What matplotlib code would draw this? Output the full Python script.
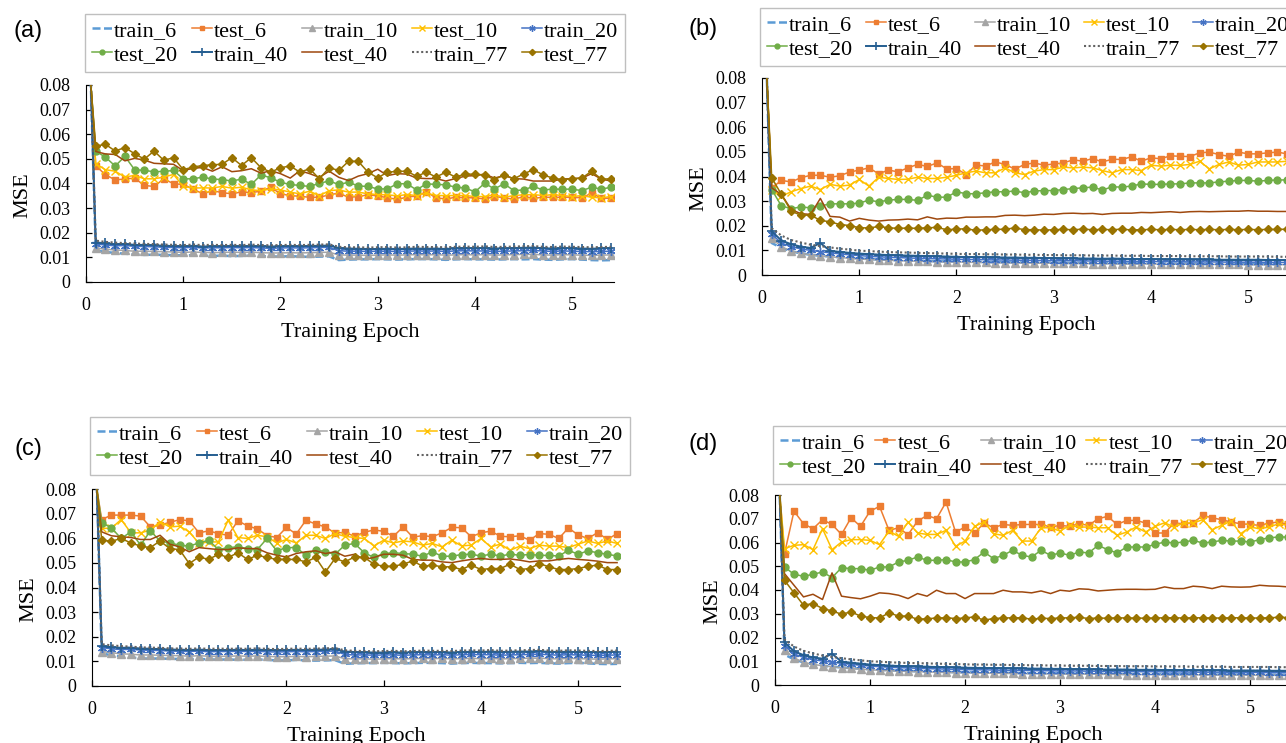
import matplotlib
matplotlib.use('Agg')
import matplotlib.pyplot as plt
from matplotlib.ticker import FuncFormatter, MultipleLocator

W, H = 1286, 743

# epoch positions of the logged points (first one is off the chart top)
EPOCHS = [0.0] + [k / 10 for k in range(1, 55)]

LABELS = ['train_6', 'test_6', 'train_10', 'test_10', 'train_20',
          'test_20', 'train_40', 'test_40', 'train_77', 'test_77']

# ---- panel (a) ----
A_TRAIN_6 = [0.147,
    0.0128, 0.0122, 0.0118, 0.0115, 0.0112, 0.0110, 0.0111, 0.0110, 0.0109, 0.0108,
    0.0109, 0.0107, 0.0106, 0.0107, 0.0105, 0.0106, 0.0107, 0.0105, 0.0104, 0.0103,
    0.0105, 0.0103, 0.0102, 0.0103, 0.0104, 0.0089, 0.0091, 0.0092, 0.0092, 0.0093,
    0.0092, 0.0091, 0.0092, 0.0093, 0.0093, 0.0092, 0.0090, 0.0092, 0.0093, 0.0092,
    0.0092, 0.0091, 0.0092, 0.0093, 0.0092, 0.0093, 0.0091, 0.0090, 0.0092, 0.0093,
    0.0091, 0.0089, 0.0088, 0.0089]
A_TEST_6 = [0.113,
    0.0473, 0.0435, 0.0415, 0.0418, 0.0422, 0.0392, 0.0388, 0.0419, 0.0399, 0.0396,
    0.0378, 0.0358, 0.0371, 0.0363, 0.0358, 0.0366, 0.0363, 0.0369, 0.0385, 0.0358,
    0.0351, 0.0348, 0.0344, 0.0344, 0.0354, 0.0361, 0.0344, 0.0347, 0.0354, 0.0350,
    0.0342, 0.0336, 0.0344, 0.0350, 0.0365, 0.0342, 0.0337, 0.0344, 0.0342, 0.0342,
    0.0337, 0.0347, 0.0342, 0.0336, 0.0347, 0.0340, 0.0344, 0.0344, 0.0344, 0.0344,
    0.0342, 0.0361, 0.0340, 0.0340]
A_TRAIN_10 = [0.146,
    0.0138, 0.0133, 0.0130, 0.0128, 0.0125, 0.0125, 0.0124, 0.0123, 0.0122, 0.0120,
    0.0122, 0.0120, 0.0119, 0.0120, 0.0121, 0.0120, 0.0121, 0.0119, 0.0118, 0.0118,
    0.0119, 0.0118, 0.0119, 0.0120, 0.0121, 0.0110, 0.0109, 0.0109, 0.0108, 0.0109,
    0.0110, 0.0109, 0.0110, 0.0111, 0.0110, 0.0111, 0.0109, 0.0110, 0.0111, 0.0110,
    0.0111, 0.0109, 0.0110, 0.0111, 0.0112, 0.0112, 0.0110, 0.0109, 0.0111, 0.0110,
    0.0109, 0.0108, 0.0109, 0.0110]
A_TEST_10 = [0.112,
    0.0480, 0.0456, 0.0450, 0.0426, 0.0433, 0.0419, 0.0419, 0.0426, 0.0437, 0.0388,
    0.0382, 0.0382, 0.0382, 0.0388, 0.0381, 0.0385, 0.0374, 0.0371, 0.0378, 0.0374,
    0.0365, 0.0358, 0.0369, 0.0350, 0.0371, 0.0374, 0.0365, 0.0365, 0.0358, 0.0355,
    0.0354, 0.0350, 0.0355, 0.0351, 0.0361, 0.0351, 0.0351, 0.0351, 0.0351, 0.0347,
    0.0347, 0.0354, 0.0344, 0.0351, 0.0354, 0.0355, 0.0351, 0.0355, 0.0351, 0.0347,
    0.0351, 0.0344, 0.0342, 0.0347]
A_TRAIN_20 = [0.145,
    0.0155, 0.0150, 0.0147, 0.0148, 0.0145, 0.0144, 0.0143, 0.0141, 0.0140, 0.0139,
    0.0141, 0.0138, 0.0139, 0.0139, 0.0140, 0.0139, 0.0140, 0.0138, 0.0137, 0.0138,
    0.0139, 0.0138, 0.0139, 0.0140, 0.0141, 0.0127, 0.0125, 0.0125, 0.0124, 0.0125,
    0.0125, 0.0124, 0.0125, 0.0126, 0.0125, 0.0126, 0.0124, 0.0126, 0.0127, 0.0126,
    0.0126, 0.0124, 0.0125, 0.0126, 0.0127, 0.0128, 0.0126, 0.0124, 0.0126, 0.0125,
    0.0124, 0.0123, 0.0124, 0.0125]
A_TEST_20 = [0.107,
    0.0531, 0.0507, 0.0471, 0.0510, 0.0456, 0.0453, 0.0448, 0.0449, 0.0453, 0.0419,
    0.0419, 0.0426, 0.0418, 0.0416, 0.0410, 0.0418, 0.0396, 0.0435, 0.0423, 0.0405,
    0.0396, 0.0392, 0.0388, 0.0401, 0.0410, 0.0396, 0.0405, 0.0390, 0.0388, 0.0378,
    0.0378, 0.0399, 0.0399, 0.0374, 0.0399, 0.0396, 0.0395, 0.0385, 0.0382, 0.0366,
    0.0401, 0.0378, 0.0399, 0.0371, 0.0374, 0.0388, 0.0374, 0.0377, 0.0377, 0.0377,
    0.0371, 0.0385, 0.0377, 0.0385]
A_TRAIN_40 = [0.144,
    0.0160, 0.0157, 0.0153, 0.0155, 0.0150, 0.0151, 0.0149, 0.0147, 0.0146, 0.0145,
    0.0147, 0.0144, 0.0145, 0.0145, 0.0146, 0.0145, 0.0146, 0.0145, 0.0144, 0.0145,
    0.0146, 0.0145, 0.0146, 0.0147, 0.0148, 0.0138, 0.0136, 0.0135, 0.0134, 0.0134,
    0.0135, 0.0134, 0.0135, 0.0136, 0.0135, 0.0136, 0.0134, 0.0137, 0.0138, 0.0137,
    0.0139, 0.0136, 0.0137, 0.0138, 0.0139, 0.0140, 0.0137, 0.0136, 0.0138, 0.0137,
    0.0136, 0.0135, 0.0137, 0.0138]
A_TEST_40 = [0.107,
    0.0530, 0.0520, 0.0518, 0.0492, 0.0502, 0.0495, 0.0482, 0.0480, 0.0478, 0.0452,
    0.0462, 0.0465, 0.0450, 0.0468, 0.0448, 0.0452, 0.0460, 0.0442, 0.0452, 0.0440,
    0.0422, 0.0452, 0.0440, 0.0425, 0.0450, 0.0425, 0.0412, 0.0430, 0.0440, 0.0458,
    0.0432, 0.0440, 0.0438, 0.0422, 0.0420, 0.0420, 0.0410, 0.0420, 0.0430, 0.0432,
    0.0438, 0.0422, 0.0432, 0.0420, 0.0418, 0.0410, 0.0410, 0.0410, 0.0418, 0.0420,
    0.0422, 0.0440, 0.0418, 0.0410]
A_TRAIN_77 = [0.145,
    0.0168, 0.0163, 0.0160, 0.0158, 0.0156, 0.0155, 0.0154, 0.0152, 0.0151, 0.0150,
    0.0152, 0.0150, 0.0151, 0.0150, 0.0151, 0.0150, 0.0152, 0.0150, 0.0149, 0.0150,
    0.0151, 0.0150, 0.0151, 0.0152, 0.0153, 0.0143, 0.0141, 0.0141, 0.0140, 0.0141,
    0.0142, 0.0140, 0.0141, 0.0143, 0.0142, 0.0142, 0.0141, 0.0143, 0.0144, 0.0143,
    0.0145, 0.0142, 0.0143, 0.0144, 0.0145, 0.0146, 0.0143, 0.0142, 0.0144, 0.0143,
    0.0142, 0.0141, 0.0142, 0.0143]
A_TEST_77 = [0.105,
    0.0552, 0.0559, 0.0532, 0.0546, 0.0521, 0.0499, 0.0532, 0.0494, 0.0505, 0.0456,
    0.0467, 0.0473, 0.0476, 0.0478, 0.0505, 0.0473, 0.0505, 0.0464, 0.0446, 0.0464,
    0.0471, 0.0446, 0.0460, 0.0419, 0.0464, 0.0453, 0.0490, 0.0490, 0.0446, 0.0423,
    0.0446, 0.0449, 0.0450, 0.0429, 0.0446, 0.0426, 0.0446, 0.0426, 0.0439, 0.0437,
    0.0435, 0.0416, 0.0435, 0.0419, 0.0439, 0.0456, 0.0435, 0.0422, 0.0416, 0.0419,
    0.0422, 0.0450, 0.0418, 0.0419]

# ---- panel (b) ----
B_TRAIN_6 = [0.147,
    0.0130, 0.0110, 0.0096, 0.0088, 0.0082, 0.0078, 0.0075, 0.0072, 0.0070, 0.0067,
    0.0065, 0.0063, 0.0062, 0.0060, 0.0059, 0.0058, 0.0057, 0.0056, 0.0055, 0.0055,
    0.0054, 0.0053, 0.0053, 0.0052, 0.0052, 0.0051, 0.0051, 0.0050, 0.0050, 0.0050,
    0.0049, 0.0049, 0.0049, 0.0048, 0.0048, 0.0048, 0.0047, 0.0047, 0.0047, 0.0047,
    0.0046, 0.0046, 0.0046, 0.0046, 0.0045, 0.0045, 0.0045, 0.0045, 0.0045, 0.0044,
    0.0044, 0.0044, 0.0044, 0.0044]
B_TEST_6 = [0.125,
    0.0354, 0.0384, 0.0378, 0.0395, 0.0405, 0.0405, 0.0397, 0.0403, 0.0418, 0.0426,
    0.0435, 0.0411, 0.0426, 0.0419, 0.0435, 0.0449, 0.0441, 0.0455, 0.0431, 0.0432,
    0.0408, 0.0446, 0.0443, 0.0459, 0.0449, 0.0430, 0.0449, 0.0455, 0.0446, 0.0451,
    0.0455, 0.0468, 0.0462, 0.0473, 0.0459, 0.0470, 0.0469, 0.0480, 0.0462, 0.0476,
    0.0472, 0.0484, 0.0482, 0.0481, 0.0496, 0.0499, 0.0489, 0.0482, 0.0499, 0.0492,
    0.0492, 0.0496, 0.0499, 0.0492]
B_TRAIN_10 = [0.145,
    0.0150, 0.0115, 0.0097, 0.0088, 0.0082, 0.0078, 0.0074, 0.0071, 0.0068, 0.0065,
    0.0063, 0.0061, 0.0060, 0.0058, 0.0057, 0.0056, 0.0055, 0.0054, 0.0053, 0.0053,
    0.0052, 0.0051, 0.0051, 0.0050, 0.0050, 0.0049, 0.0049, 0.0048, 0.0048, 0.0048,
    0.0047, 0.0047, 0.0047, 0.0046, 0.0046, 0.0046, 0.0045, 0.0045, 0.0045, 0.0045,
    0.0044, 0.0044, 0.0044, 0.0044, 0.0043, 0.0043, 0.0043, 0.0043, 0.0043, 0.0042,
    0.0042, 0.0042, 0.0042, 0.0042]
B_TEST_10 = [0.125,
    0.0347, 0.0320, 0.0338, 0.0351, 0.0361, 0.0347, 0.0368, 0.0361, 0.0365, 0.0388,
    0.0361, 0.0397, 0.0392, 0.0388, 0.0389, 0.0397, 0.0392, 0.0392, 0.0397, 0.0405,
    0.0415, 0.0422, 0.0415, 0.0415, 0.0435, 0.0415, 0.0408, 0.0422, 0.0428, 0.0428,
    0.0438, 0.0435, 0.0438, 0.0435, 0.0424, 0.0415, 0.0428, 0.0428, 0.0424, 0.0446,
    0.0442, 0.0446, 0.0445, 0.0449, 0.0462, 0.0431, 0.0449, 0.0459, 0.0446, 0.0449,
    0.0459, 0.0459, 0.0459, 0.0462]
B_TRAIN_20 = [0.143,
    0.0165, 0.0130, 0.0115, 0.0106, 0.0100, 0.0095, 0.0090, 0.0086, 0.0082, 0.0079,
    0.0076, 0.0074, 0.0072, 0.0071, 0.0069, 0.0068, 0.0067, 0.0066, 0.0065, 0.0064,
    0.0063, 0.0063, 0.0062, 0.0061, 0.0061, 0.0060, 0.0060, 0.0059, 0.0059, 0.0058,
    0.0058, 0.0058, 0.0057, 0.0057, 0.0056, 0.0056, 0.0056, 0.0055, 0.0055, 0.0055,
    0.0054, 0.0054, 0.0054, 0.0053, 0.0053, 0.0053, 0.0053, 0.0052, 0.0052, 0.0052,
    0.0052, 0.0051, 0.0051, 0.0051]
B_TEST_20 = [0.125,
    0.0347, 0.0280, 0.0270, 0.0276, 0.0273, 0.0280, 0.0289, 0.0289, 0.0289, 0.0292,
    0.0304, 0.0297, 0.0304, 0.0307, 0.0307, 0.0303, 0.0324, 0.0316, 0.0316, 0.0338,
    0.0330, 0.0330, 0.0334, 0.0338, 0.0338, 0.0341, 0.0334, 0.0341, 0.0343, 0.0343,
    0.0347, 0.0351, 0.0354, 0.0357, 0.0345, 0.0358, 0.0357, 0.0361, 0.0370, 0.0368,
    0.0368, 0.0370, 0.0370, 0.0374, 0.0374, 0.0374, 0.0378, 0.0381, 0.0384, 0.0384,
    0.0381, 0.0384, 0.0386, 0.0386]
B_TRAIN_40 = [0.142,
    0.0178, 0.0140, 0.0125, 0.0115, 0.0110, 0.0130, 0.0098, 0.0094, 0.0090, 0.0087,
    0.0085, 0.0083, 0.0081, 0.0080, 0.0079, 0.0078, 0.0077, 0.0076, 0.0075, 0.0074,
    0.0073, 0.0073, 0.0072, 0.0072, 0.0071, 0.0071, 0.0070, 0.0070, 0.0069, 0.0069,
    0.0068, 0.0068, 0.0067, 0.0067, 0.0066, 0.0067, 0.0066, 0.0065, 0.0065, 0.0065,
    0.0064, 0.0064, 0.0064, 0.0063, 0.0063, 0.0063, 0.0062, 0.0062, 0.0062, 0.0062,
    0.0062, 0.0061, 0.0061, 0.0061]
B_TEST_40 = [0.125,
    0.0354, 0.0327, 0.0266, 0.0249, 0.0246, 0.0311, 0.0238, 0.0235, 0.0219, 0.0230,
    0.0223, 0.0219, 0.0223, 0.0224, 0.0227, 0.0224, 0.0236, 0.0227, 0.0231, 0.0230,
    0.0235, 0.0235, 0.0236, 0.0236, 0.0242, 0.0243, 0.0241, 0.0243, 0.0247, 0.0246,
    0.0250, 0.0251, 0.0249, 0.0250, 0.0246, 0.0250, 0.0251, 0.0251, 0.0254, 0.0253,
    0.0255, 0.0257, 0.0254, 0.0257, 0.0258, 0.0257, 0.0258, 0.0259, 0.0259, 0.0261,
    0.0259, 0.0259, 0.0258, 0.0258]
B_TRAIN_77 = [0.141,
    0.0190, 0.0160, 0.0142, 0.0132, 0.0123, 0.0117, 0.0112, 0.0107, 0.0103, 0.0099,
    0.0097, 0.0095, 0.0093, 0.0092, 0.0091, 0.0090, 0.0089, 0.0088, 0.0087, 0.0086,
    0.0085, 0.0085, 0.0084, 0.0084, 0.0083, 0.0083, 0.0082, 0.0082, 0.0081, 0.0081,
    0.0080, 0.0080, 0.0080, 0.0079, 0.0079, 0.0079, 0.0078, 0.0078, 0.0078, 0.0077,
    0.0077, 0.0077, 0.0077, 0.0076, 0.0076, 0.0076, 0.0076, 0.0075, 0.0075, 0.0075,
    0.0075, 0.0075, 0.0074, 0.0074]
B_TEST_77 = [0.120,
    0.0395, 0.0327, 0.0259, 0.0243, 0.0243, 0.0222, 0.0216, 0.0205, 0.0201, 0.0192,
    0.0191, 0.0197, 0.0192, 0.0189, 0.0191, 0.0189, 0.0192, 0.0193, 0.0184, 0.0186,
    0.0188, 0.0181, 0.0184, 0.0185, 0.0186, 0.0191, 0.0184, 0.0184, 0.0182, 0.0184,
    0.0185, 0.0184, 0.0186, 0.0184, 0.0185, 0.0184, 0.0186, 0.0183, 0.0184, 0.0185,
    0.0184, 0.0185, 0.0184, 0.0185, 0.0184, 0.0185, 0.0184, 0.0185, 0.0184, 0.0185,
    0.0184, 0.0185, 0.0185, 0.0186]

# ---- panel (c) ----
C_TRAIN_6 = [0.147,
    0.0132, 0.0125, 0.0120, 0.0116, 0.0112, 0.0111, 0.0112, 0.0110, 0.0110, 0.0109,
    0.0110, 0.0108, 0.0107, 0.0108, 0.0106, 0.0107, 0.0108, 0.0106, 0.0104, 0.0104,
    0.0106, 0.0104, 0.0103, 0.0104, 0.0105, 0.0090, 0.0092, 0.0093, 0.0093, 0.0094,
    0.0093, 0.0092, 0.0093, 0.0094, 0.0094, 0.0093, 0.0091, 0.0093, 0.0094, 0.0093,
    0.0093, 0.0092, 0.0093, 0.0094, 0.0093, 0.0094, 0.0092, 0.0091, 0.0093, 0.0094,
    0.0092, 0.0090, 0.0089, 0.0090]
C_TEST_6 = [0.092,
    0.0676, 0.0694, 0.0694, 0.0694, 0.0690, 0.0646, 0.0653, 0.0665, 0.0675, 0.0671,
    0.0622, 0.0630, 0.0619, 0.0612, 0.0671, 0.0650, 0.0638, 0.0611, 0.0603, 0.0644,
    0.0617, 0.0673, 0.0658, 0.0646, 0.0621, 0.0624, 0.0608, 0.0624, 0.0634, 0.0628,
    0.0608, 0.0646, 0.0604, 0.0611, 0.0606, 0.0622, 0.0644, 0.0643, 0.0606, 0.0622,
    0.0629, 0.0608, 0.0606, 0.0610, 0.0592, 0.0619, 0.0616, 0.0599, 0.0642, 0.0613,
    0.0599, 0.0623, 0.0595, 0.0619]
C_TRAIN_10 = [0.146,
    0.0140, 0.0135, 0.0131, 0.0129, 0.0126, 0.0126, 0.0125, 0.0124, 0.0123, 0.0121,
    0.0123, 0.0121, 0.0120, 0.0121, 0.0122, 0.0121, 0.0122, 0.0120, 0.0119, 0.0119,
    0.0120, 0.0119, 0.0120, 0.0121, 0.0122, 0.0111, 0.0110, 0.0110, 0.0109, 0.0110,
    0.0111, 0.0110, 0.0111, 0.0112, 0.0111, 0.0112, 0.0110, 0.0111, 0.0112, 0.0111,
    0.0112, 0.0110, 0.0111, 0.0112, 0.0113, 0.0113, 0.0111, 0.0110, 0.0112, 0.0111,
    0.0110, 0.0109, 0.0110, 0.0111]
C_TEST_10 = [0.096,
    0.0640, 0.0641, 0.0676, 0.0622, 0.0622, 0.0633, 0.0667, 0.0646, 0.0649, 0.0626,
    0.0579, 0.0585, 0.0585, 0.0673, 0.0603, 0.0599, 0.0612, 0.0606, 0.0581, 0.0595,
    0.0581, 0.0612, 0.0612, 0.0599, 0.0619, 0.0608, 0.0603, 0.0599, 0.0569, 0.0592,
    0.0581, 0.0589, 0.0585, 0.0572, 0.0579, 0.0565, 0.0592, 0.0569, 0.0572, 0.0599,
    0.0565, 0.0576, 0.0551, 0.0568, 0.0558, 0.0572, 0.0568, 0.0568, 0.0562, 0.0576,
    0.0589, 0.0579, 0.0589, 0.0579]
C_TRAIN_20 = [0.145,
    0.0156, 0.0151, 0.0148, 0.0149, 0.0146, 0.0145, 0.0144, 0.0142, 0.0141, 0.0140,
    0.0142, 0.0139, 0.0140, 0.0140, 0.0141, 0.0140, 0.0141, 0.0139, 0.0138, 0.0139,
    0.0140, 0.0139, 0.0140, 0.0141, 0.0142, 0.0128, 0.0126, 0.0126, 0.0125, 0.0126,
    0.0126, 0.0125, 0.0126, 0.0127, 0.0126, 0.0127, 0.0125, 0.0127, 0.0128, 0.0127,
    0.0127, 0.0125, 0.0126, 0.0127, 0.0128, 0.0129, 0.0127, 0.0125, 0.0127, 0.0126,
    0.0125, 0.0124, 0.0125, 0.0126]
C_TEST_20 = [0.094,
    0.0663, 0.0642, 0.0599, 0.0626, 0.0572, 0.0630, 0.0589, 0.0581, 0.0572, 0.0568,
    0.0581, 0.0592, 0.0554, 0.0562, 0.0565, 0.0558, 0.0554, 0.0599, 0.0549, 0.0562,
    0.0562, 0.0531, 0.0554, 0.0545, 0.0535, 0.0572, 0.0579, 0.0541, 0.0522, 0.0538,
    0.0541, 0.0538, 0.0535, 0.0527, 0.0545, 0.0527, 0.0527, 0.0534, 0.0535, 0.0528,
    0.0535, 0.0528, 0.0535, 0.0531, 0.0534, 0.0531, 0.0530, 0.0528, 0.0551, 0.0535,
    0.0549, 0.0541, 0.0535, 0.0528]
C_TRAIN_40 = [0.144,
    0.0162, 0.0158, 0.0155, 0.0156, 0.0152, 0.0151, 0.0150, 0.0148, 0.0147, 0.0146,
    0.0148, 0.0145, 0.0146, 0.0146, 0.0147, 0.0146, 0.0147, 0.0146, 0.0145, 0.0146,
    0.0147, 0.0146, 0.0147, 0.0148, 0.0149, 0.0140, 0.0138, 0.0137, 0.0136, 0.0136,
    0.0137, 0.0136, 0.0137, 0.0138, 0.0137, 0.0138, 0.0136, 0.0138, 0.0139, 0.0138,
    0.0140, 0.0138, 0.0139, 0.0140, 0.0140, 0.0141, 0.0139, 0.0138, 0.0139, 0.0138,
    0.0138, 0.0137, 0.0138, 0.0139]
C_TEST_40 = [0.097,
    0.0626, 0.0610, 0.0606, 0.0603, 0.0595, 0.0595, 0.0612, 0.0576, 0.0565, 0.0545,
    0.0562, 0.0558, 0.0554, 0.0554, 0.0561, 0.0558, 0.0558, 0.0541, 0.0531, 0.0524,
    0.0538, 0.0545, 0.0549, 0.0538, 0.0545, 0.0527, 0.0535, 0.0514, 0.0522, 0.0535,
    0.0535, 0.0531, 0.0514, 0.0511, 0.0511, 0.0504, 0.0501, 0.0508, 0.0514, 0.0518,
    0.0514, 0.0514, 0.0516, 0.0511, 0.0504, 0.0508, 0.0508, 0.0514, 0.0518, 0.0514,
    0.0511, 0.0507, 0.0501, 0.0501]
C_TRAIN_77 = [0.145,
    0.0170, 0.0165, 0.0162, 0.0160, 0.0157, 0.0156, 0.0155, 0.0153, 0.0152, 0.0151,
    0.0153, 0.0151, 0.0152, 0.0151, 0.0152, 0.0151, 0.0153, 0.0151, 0.0150, 0.0151,
    0.0152, 0.0151, 0.0152, 0.0153, 0.0154, 0.0145, 0.0143, 0.0142, 0.0141, 0.0142,
    0.0143, 0.0141, 0.0142, 0.0144, 0.0143, 0.0143, 0.0142, 0.0144, 0.0145, 0.0144,
    0.0146, 0.0143, 0.0144, 0.0145, 0.0146, 0.0147, 0.0144, 0.0143, 0.0145, 0.0144,
    0.0143, 0.0142, 0.0143, 0.0144]
C_TEST_77 = [0.101,
    0.0592, 0.0588, 0.0599, 0.0581, 0.0568, 0.0562, 0.0589, 0.0558, 0.0554, 0.0497,
    0.0524, 0.0514, 0.0535, 0.0522, 0.0541, 0.0514, 0.0531, 0.0522, 0.0514, 0.0514,
    0.0514, 0.0504, 0.0522, 0.0463, 0.0518, 0.0504, 0.0524, 0.0522, 0.0495, 0.0486,
    0.0486, 0.0495, 0.0508, 0.0486, 0.0491, 0.0484, 0.0484, 0.0473, 0.0491, 0.0473,
    0.0477, 0.0477, 0.0495, 0.0473, 0.0477, 0.0497, 0.0484, 0.0473, 0.0473, 0.0477,
    0.0486, 0.0491, 0.0473, 0.0473]

# ---- panel (d) ----
D_TRAIN_6 = [0.147,
    0.0128, 0.0108, 0.0095, 0.0087, 0.0081, 0.0077, 0.0074, 0.0071, 0.0069, 0.0066,
    0.0064, 0.0062, 0.0061, 0.0059, 0.0058, 0.0057, 0.0056, 0.0055, 0.0054, 0.0054,
    0.0053, 0.0052, 0.0052, 0.0051, 0.0051, 0.0050, 0.0050, 0.0049, 0.0049, 0.0049,
    0.0048, 0.0048, 0.0048, 0.0047, 0.0047, 0.0047, 0.0046, 0.0046, 0.0046, 0.0046,
    0.0045, 0.0045, 0.0045, 0.0045, 0.0044, 0.0044, 0.0044, 0.0044, 0.0044, 0.0043,
    0.0043, 0.0043, 0.0043, 0.0043]
D_TEST_6 = [0.105,
    0.0553, 0.0732, 0.0679, 0.0658, 0.0696, 0.0676, 0.0634, 0.0704, 0.0668, 0.0732,
    0.0752, 0.0651, 0.0662, 0.0633, 0.0690, 0.0714, 0.0700, 0.0770, 0.0644, 0.0665,
    0.0640, 0.0682, 0.0662, 0.0676, 0.0672, 0.0676, 0.0676, 0.0676, 0.0665, 0.0672,
    0.0668, 0.0679, 0.0672, 0.0700, 0.0710, 0.0676, 0.0693, 0.0693, 0.0682, 0.0640,
    0.0640, 0.0682, 0.0679, 0.0682, 0.0714, 0.0704, 0.0696, 0.0686, 0.0679, 0.0676,
    0.0672, 0.0682, 0.0686, 0.0676]
D_TRAIN_10 = [0.145,
    0.0148, 0.0113, 0.0096, 0.0087, 0.0081, 0.0077, 0.0073, 0.0070, 0.0067, 0.0064,
    0.0062, 0.0060, 0.0059, 0.0057, 0.0056, 0.0055, 0.0054, 0.0053, 0.0052, 0.0052,
    0.0051, 0.0050, 0.0050, 0.0049, 0.0049, 0.0048, 0.0048, 0.0047, 0.0047, 0.0047,
    0.0046, 0.0046, 0.0046, 0.0045, 0.0045, 0.0045, 0.0044, 0.0044, 0.0044, 0.0044,
    0.0043, 0.0043, 0.0043, 0.0043, 0.0042, 0.0042, 0.0042, 0.0042, 0.0042, 0.0041,
    0.0041, 0.0041, 0.0041, 0.0041]
D_TEST_10 = [0.103,
    0.0574, 0.0588, 0.0591, 0.0570, 0.0658, 0.0570, 0.0602, 0.0612, 0.0612, 0.0609,
    0.0591, 0.0648, 0.0626, 0.0686, 0.0640, 0.0634, 0.0634, 0.0651, 0.0584, 0.0606,
    0.0668, 0.0686, 0.0637, 0.0630, 0.0651, 0.0606, 0.0606, 0.0662, 0.0662, 0.0648,
    0.0672, 0.0665, 0.0665, 0.0662, 0.0662, 0.0630, 0.0644, 0.0665, 0.0644, 0.0668,
    0.0683, 0.0665, 0.0682, 0.0682, 0.0696, 0.0654, 0.0672, 0.0690, 0.0637, 0.0665,
    0.0658, 0.0665, 0.0679, 0.0672]
D_TRAIN_20 = [0.143,
    0.0166, 0.0131, 0.0116, 0.0107, 0.0101, 0.0096, 0.0091, 0.0087, 0.0083, 0.0080,
    0.0077, 0.0075, 0.0073, 0.0072, 0.0070, 0.0069, 0.0068, 0.0067, 0.0066, 0.0065,
    0.0064, 0.0064, 0.0063, 0.0062, 0.0062, 0.0061, 0.0061, 0.0060, 0.0060, 0.0059,
    0.0059, 0.0059, 0.0058, 0.0058, 0.0057, 0.0057, 0.0057, 0.0056, 0.0056, 0.0056,
    0.0055, 0.0055, 0.0055, 0.0054, 0.0054, 0.0054, 0.0054, 0.0053, 0.0053, 0.0053,
    0.0053, 0.0052, 0.0052, 0.0052]
D_TEST_20 = [0.110,
    0.0497, 0.0466, 0.0458, 0.0466, 0.0476, 0.0452, 0.0494, 0.0490, 0.0490, 0.0483,
    0.0497, 0.0497, 0.0518, 0.0525, 0.0539, 0.0525, 0.0525, 0.0528, 0.0518, 0.0518,
    0.0528, 0.0560, 0.0532, 0.0546, 0.0567, 0.0546, 0.0539, 0.0567, 0.0546, 0.0556,
    0.0546, 0.0560, 0.0556, 0.0588, 0.0570, 0.0556, 0.0581, 0.0581, 0.0581, 0.0592,
    0.0602, 0.0598, 0.0602, 0.0609, 0.0598, 0.0602, 0.0609, 0.0606, 0.0606, 0.0602,
    0.0612, 0.0620, 0.0623, 0.0623]
D_TRAIN_40 = [0.142,
    0.0180, 0.0142, 0.0126, 0.0116, 0.0111, 0.0132, 0.0098, 0.0094, 0.0090, 0.0086,
    0.0084, 0.0082, 0.0080, 0.0079, 0.0078, 0.0077, 0.0076, 0.0075, 0.0074, 0.0073,
    0.0072, 0.0072, 0.0071, 0.0071, 0.0070, 0.0070, 0.0069, 0.0069, 0.0068, 0.0068,
    0.0067, 0.0067, 0.0066, 0.0066, 0.0065, 0.0065, 0.0065, 0.0064, 0.0064, 0.0064,
    0.0063, 0.0063, 0.0063, 0.0062, 0.0062, 0.0062, 0.0062, 0.0061, 0.0061, 0.0061,
    0.0061, 0.0060, 0.0060, 0.0060]
D_TEST_40 = [0.113,
    0.0469, 0.0420, 0.0371, 0.0382, 0.0360, 0.0472, 0.0374, 0.0368, 0.0363, 0.0374,
    0.0388, 0.0385, 0.0378, 0.0364, 0.0385, 0.0374, 0.0399, 0.0385, 0.0385, 0.0364,
    0.0385, 0.0385, 0.0385, 0.0399, 0.0392, 0.0392, 0.0388, 0.0396, 0.0385, 0.0399,
    0.0395, 0.0405, 0.0403, 0.0396, 0.0399, 0.0402, 0.0403, 0.0403, 0.0402, 0.0403,
    0.0413, 0.0406, 0.0406, 0.0416, 0.0413, 0.0406, 0.0416, 0.0413, 0.0412, 0.0413,
    0.0420, 0.0417, 0.0416, 0.0413]
D_TRAIN_77 = [0.141,
    0.0192, 0.0162, 0.0144, 0.0133, 0.0124, 0.0118, 0.0113, 0.0108, 0.0104, 0.0100,
    0.0098, 0.0096, 0.0094, 0.0093, 0.0092, 0.0091, 0.0090, 0.0089, 0.0088, 0.0087,
    0.0086, 0.0086, 0.0085, 0.0085, 0.0084, 0.0084, 0.0083, 0.0083, 0.0082, 0.0082,
    0.0081, 0.0081, 0.0081, 0.0080, 0.0080, 0.0080, 0.0079, 0.0079, 0.0079, 0.0078,
    0.0078, 0.0078, 0.0078, 0.0077, 0.0077, 0.0077, 0.0077, 0.0076, 0.0076, 0.0076,
    0.0076, 0.0076, 0.0075, 0.0075]
D_TEST_77 = [0.116,
    0.0441, 0.0388, 0.0336, 0.0343, 0.0322, 0.0312, 0.0298, 0.0308, 0.0290, 0.0284,
    0.0282, 0.0304, 0.0290, 0.0290, 0.0277, 0.0279, 0.0282, 0.0283, 0.0280, 0.0282,
    0.0287, 0.0273, 0.0280, 0.0282, 0.0283, 0.0283, 0.0277, 0.0281, 0.0280, 0.0282,
    0.0283, 0.0285, 0.0280, 0.0282, 0.0281, 0.0283, 0.0282, 0.0282, 0.0281, 0.0282,
    0.0283, 0.0283, 0.0282, 0.0283, 0.0283, 0.0282, 0.0282, 0.0283, 0.0283, 0.0282,
    0.0282, 0.0283, 0.0285, 0.0284]

PANELS = {
    '(a)': [A_TRAIN_6, A_TEST_6, A_TRAIN_10, A_TEST_10, A_TRAIN_20,
            A_TEST_20, A_TRAIN_40, A_TEST_40, A_TRAIN_77, A_TEST_77],
    '(b)': [B_TRAIN_6, B_TEST_6, B_TRAIN_10, B_TEST_10, B_TRAIN_20,
            B_TEST_20, B_TRAIN_40, B_TEST_40, B_TRAIN_77, B_TEST_77],
    '(c)': [C_TRAIN_6, C_TEST_6, C_TRAIN_10, C_TEST_10, C_TRAIN_20,
            C_TEST_20, C_TRAIN_40, C_TEST_40, C_TRAIN_77, C_TEST_77],
    '(d)': [D_TRAIN_6, D_TEST_6, D_TRAIN_10, D_TEST_10, D_TRAIN_20,
            D_TEST_20, D_TRAIN_40, D_TEST_40, D_TRAIN_77, D_TEST_77],
}

# line styles, same order as LABELS (Excel-like palette)
STYLES = [
    dict(color='#5B9BD5', lw=1.8, dashes=(3.2, 1.4)),
    dict(color='#ED7D31', lw=1.1, marker='s', ms=5),
    dict(color='#A5A5A5', lw=1.1, marker='^', ms=5.5),
    dict(color='#FFC000', lw=1.1, marker='x', ms=5.5, mew=1.0),
    dict(color='#4472C4', lw=1.1, marker=(6, 2, 0), ms=6.5, mew=1.0),
    dict(color='#70AD47', lw=1.1, marker='o', ms=5),
    dict(color='#255E91', lw=1.4, marker='+', ms=7.5, mew=1.2),
    dict(color='#9E480E', lw=1.1),
    dict(color='#636363', lw=1.5, ls=(0, (1, 1.2))),
    dict(color='#997300', lw=1.1, marker='D', ms=4.5),
]

# pixel layout: axes (left, top, width, height), legend (left, top, width), tag (x, y)
LAYOUT = {
    '(a)': dict(ax=(86, 85, 528, 197), leg=(85, 14, 540), tag=(28, 31)),
    '(b)': dict(ax=(762, 78, 528, 197), leg=(760, 8, 536), tag=(703, 29)),
    '(c)': dict(ax=(92, 489, 528, 197), leg=(90, 417, 540), tag=(28, 449)),
    '(d)': dict(ax=(775, 495, 516, 190), leg=(773, 426, 522), tag=(703, 444)),
}

plt.rcParams['font.family'] = ['Liberation Serif', 'DejaVu Serif']


def px_box(left, top, width, height):
    return [left / W, 1 - (top + height) / H, width / W, height / H]


def y_fmt(v, _):
    return '0' if abs(v) < 1e-9 else f'{v:.2f}'


def draw_panel(fig, tag, series, layout):
    ax = fig.add_axes(px_box(*layout['ax']))
    handles = []
    for label, values, style in zip(LABELS, series, STYLES):
        line, = ax.plot(EPOCHS, values, label=label, **style)
        handles.append(line)

    ax.set_xlim(0, 5.43)
    ax.set_ylim(0, 0.08)
    ax.xaxis.set_major_locator(MultipleLocator(1))
    ax.yaxis.set_major_locator(MultipleLocator(0.01))
    ax.yaxis.set_major_formatter(FuncFormatter(y_fmt))
    ax.spines['top'].set_visible(False)
    ax.spines['right'].set_visible(False)
    ax.tick_params(direction='in', length=4, width=0.9, labelsize=13, pad=11)
    ax.set_xlabel('Training Epoch', fontsize=16, labelpad=6)
    ax.set_ylabel('MSE', fontsize=16)
    ax.yaxis.set_label_coords(-0.102, 0.44)

    # legend is filled row-wise in Excel, matplotlib fills column-wise
    order = [0, 5, 1, 6, 2, 7, 3, 8, 4, 9]
    lx, ly, lw = layout['leg']
    ax.legend([handles[i] for i in order], [LABELS[i] for i in order],
              ncol=5, mode='expand', loc='upper left',
              bbox_to_anchor=(lx / W, 1 - (ly + 60) / H, lw / W, 60 / H),
              bbox_transform=fig.transFigure, borderaxespad=0,
              fontsize=16, handlelength=0.9, handletextpad=0.1,
              borderpad=0.3, labelspacing=0.15, markerscale=0.7,
              fancybox=False, framealpha=1, edgecolor='#BFBFBF')

    tx, ty = layout['tag']
    fig.text(tx / W, 1 - ty / H, tag, family='Liberation Sans',
             fontsize=17, ha='center', va='center')


fig = plt.figure(figsize=(W / 100, H / 100), dpi=100)
for tag, series in PANELS.items():
    draw_panel(fig, tag, series, LAYOUT[tag])

fig.savefig('out.png', dpi=100)
